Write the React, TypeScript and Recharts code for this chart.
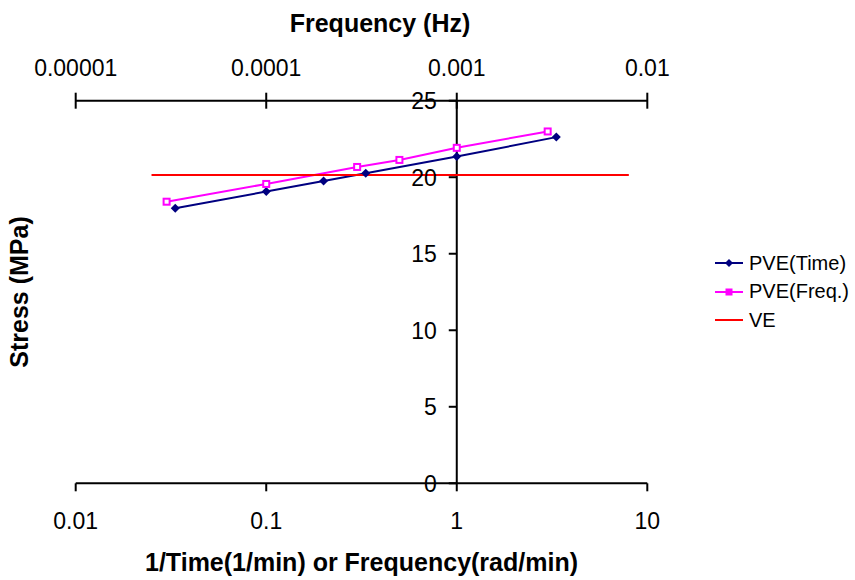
import { ComposedChart, Legend, Line, ReferenceLine, XAxis, YAxis, Label } from 'recharts';

// readings
const timeX = [0.0333, 0.1, 0.2, 0.333, 1, 3.33];
const timeStress = [17.97, 19.06, 19.76, 20.26, 21.35, 22.62];
const freqX = [0.03, 0.1, 0.3, 0.5, 1, 3];
const freqStress = [18.4, 19.56, 20.67, 21.13, 21.92, 22.99];
const veX = [0.025, 8];
const veStress = [20.15, 20.15];

const bottomTicks = [0.01, 0.1, 1, 10];
const topTicks = [0.00001, 0.0001, 0.001, 0.01];
const stressTicks = [0, 5, 10, 15, 20, 25];

// chart sits at the page origin, so these are page pixels
const W = 855;
const H = 580;
const PLOT_LEFT = 75.7;
const PLOT_RIGHT = 647.3;
const PLOT_TOP = 100.7;
const PLOT_BOTTOM = 483.3;
// stress axis crosses the x axis at 1 (two decades in out of three)
const AXIS_X = PLOT_LEFT + ((PLOT_RIGHT - PLOT_LEFT) * 2) / 3;

const FONT = '"Liberation Sans", Arial, sans-serif';
const FS = 23;
const TITLE_FS = 25;
const LEGEND_FS = 20;

const timeData = timeX.map((x, i) => ({ x, y: timeStress[i] }));
const freqData = freqX.map((x, i) => ({ x, y: freqStress[i] }));
const veData = veX.map((x, i) => ({ x, y: veStress[i] }));

const NAVY = '#000080';
const MAGENTA = '#FF00FF';
const RED = '#FF0000';

const titleStyle = { fontFamily: FONT, fontSize: TITLE_FS, fontWeight: 'bold' as const, fill: '#000' };

const Diamond = ({ cx, cy, index }: any) => (
    <path key={`dm-${index}`} d={`M${cx},${cy - 4.5}L${cx + 4.5},${cy}L${cx},${cy + 4.5}L${cx - 4.5},${cy}Z`} fill={NAVY} />
);

const Square = ({ cx, cy, index }: any) => (
    <rect key={`sq-${index}`} x={cx - 3} y={cy - 3} width={6} height={6} fill="#fff" stroke={MAGENTA} strokeWidth={2} />
);

const BottomTick = ({ payload }: any) => {
    const x = payload.coordinate;
    return (
        <g>
            <line x1={x} x2={x} y1={PLOT_BOTTOM} y2={PLOT_BOTTOM + 8} stroke="#000" strokeWidth={2} />
            <text x={x} y={PLOT_BOTTOM + 46} textAnchor="middle" fontSize={FS} fontFamily={FONT} fill="#000">
                {String(payload.value)}
            </text>
        </g>
    );
};

const TopTick = ({ payload }: any) => {
    const x = payload.coordinate;
    return (
        <g>
            <line x1={x} x2={x} y1={PLOT_TOP - 8} y2={PLOT_TOP + 8} stroke="#000" strokeWidth={2} />
            <text x={x} y={PLOT_TOP - 25} textAnchor="middle" fontSize={FS} fontFamily={FONT} fill="#000">
                {String(payload.value)}
            </text>
        </g>
    );
};

const StressTick = ({ payload }: any) => {
    const y = payload.coordinate;
    return (
        <g>
            <line x1={AXIS_X - 8} x2={AXIS_X} y1={y} y2={y} stroke="#000" strokeWidth={2} />
            <text x={AXIS_X - 20} y={y} dy="0.36em" textAnchor="end" fontSize={FS} fontFamily={FONT} fill="#000">
                {payload.value}
            </text>
        </g>
    );
};

const legendItems = [
    { name: 'PVE(Time)', color: NAVY, marker: 'diamond' },
    { name: 'PVE(Freq.)', color: MAGENTA, marker: 'square' },
    { name: 'VE', color: RED, marker: 'none' },
];

const LegendBox = () => (
    <div style={{ fontFamily: FONT, fontSize: LEGEND_FS, color: '#000' }}>
        {legendItems.map((item) => (
            <div key={item.name} style={{ display: 'flex', alignItems: 'center', height: 28.5 }}>
                <svg width={28} height={12}>
                    <line x1={0} x2={28} y1={6} y2={6} stroke={item.color} strokeWidth={2} />
                    {item.marker === 'diamond' && <path d="M14,2L18,6L14,10L10,6Z" fill={item.color} />}
                    {item.marker === 'square' && (
                        <rect x={11} y={3} width={6} height={6} fill={item.color} stroke={item.color} strokeWidth={1} />
                    )}
                </svg>
                <span style={{ marginLeft: 6, whiteSpace: 'nowrap' }}>{item.name}</span>
            </div>
        ))}
    </div>
);

const App = () => {
    return (
        <div style={{ position: 'absolute', left: 0, top: 0, fontFamily: FONT }}>
            <ComposedChart width={W} height={H} margin={{ top: 0, right: W - PLOT_RIGHT, bottom: 0, left: 0 }}>
                <XAxis
                    xAxisId="bottom"
                    type="number"
                    dataKey="x"
                    scale="log"
                    domain={[0.01, 10]}
                    allowDataOverflow
                    ticks={bottomTicks}
                    height={H - PLOT_BOTTOM}
                    axisLine={{ stroke: '#000', strokeWidth: 2 }}
                    tickLine={false}
                    tick={<BottomTick />}
                    interval={0}
                >
                    <Label
                        content={() => (
                            <text x={(PLOT_LEFT + PLOT_RIGHT) / 2} y={562} dy="0.36em" textAnchor="middle" style={titleStyle}>
                                1/Time(1/min) or Frequency(rad/min)
                            </text>
                        )}
                    />
                </XAxis>
                <XAxis
                    xAxisId="top"
                    orientation="top"
                    type="number"
                    dataKey="x"
                    scale="log"
                    domain={[0.00001, 0.01]}
                    allowDataOverflow
                    ticks={topTicks}
                    height={PLOT_TOP}
                    axisLine={{ stroke: '#000', strokeWidth: 2 }}
                    tickLine={false}
                    tick={<TopTick />}
                    interval={0}
                >
                    <Label
                        content={() => (
                            <text x={380} y={23} dy="0.36em" textAnchor="middle" style={titleStyle}>
                                Frequency (Hz)
                            </text>
                        )}
                    />
                </XAxis>
                <YAxis
                    type="number"
                    domain={[0, 25]}
                    ticks={stressTicks}
                    width={PLOT_LEFT}
                    axisLine={false}
                    tickLine={false}
                    tick={<StressTick />}
                    interval={0}
                >
                    <Label
                        content={() => (
                            <text
                                x={19}
                                y={(PLOT_TOP + PLOT_BOTTOM) / 2}
                                dy="0.36em"
                                textAnchor="middle"
                                transform={`rotate(-90, 19, ${(PLOT_TOP + PLOT_BOTTOM) / 2})`}
                                style={titleStyle}
                            >
                                Stress (MPa)
                            </text>
                        )}
                    />
                </YAxis>
                <ReferenceLine xAxisId="bottom" x={1} stroke="#000" strokeWidth={2} />
                <Line
                    xAxisId="bottom"
                    data={timeData}
                    dataKey="y"
                    name="PVE(Time)"
                    stroke={NAVY}
                    strokeWidth={2}
                    dot={Diamond}
                    activeDot={false}
                    isAnimationActive={false}
                />
                <Line
                    xAxisId="bottom"
                    data={freqData}
                    dataKey="y"
                    name="PVE(Freq.)"
                    stroke={MAGENTA}
                    strokeWidth={2}
                    dot={Square}
                    activeDot={false}
                    isAnimationActive={false}
                />
                <Line
                    xAxisId="bottom"
                    data={veData}
                    dataKey="y"
                    name="VE"
                    stroke={RED}
                    strokeWidth={2}
                    dot={false}
                    activeDot={false}
                    isAnimationActive={false}
                />
                <Legend
                    layout="vertical"
                    align="center"
                    verticalAlign="middle"
                    content={<LegendBox />}
                    wrapperStyle={{ left: 715, top: 249, width: 140 }}
                />
            </ComposedChart>
        </div>
    );
};

export default App;
